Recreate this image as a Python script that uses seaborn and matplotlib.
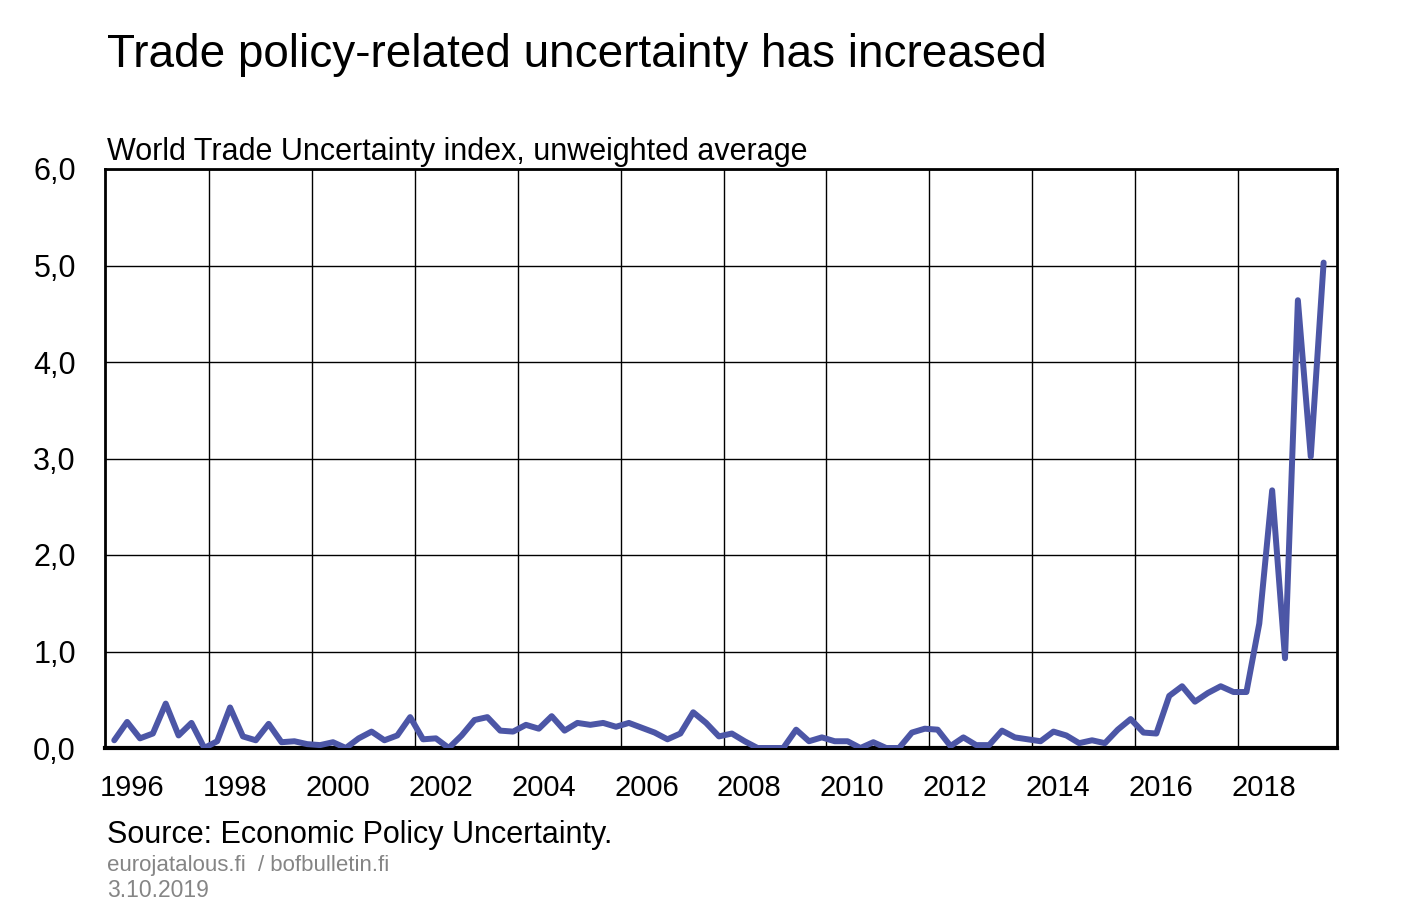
import pandas as pd
import seaborn as sns
import matplotlib.pyplot as plt
import numpy as np

# Quarterly World Trade Uncertainty index, 1996Q1 - 2019Q3
quarters = pd.period_range('1996Q1', '2019Q3', freq='Q')
wtu = [0.08, 0.27, 0.10, 0.15, 0.46, 0.13, 0.26, 0.00,
       0.07, 0.42, 0.12, 0.08, 0.25, 0.06, 0.07, 0.04,
       0.03, 0.06, 0.00, 0.10, 0.17, 0.08, 0.13, 0.32,
       0.09, 0.10, 0.00, 0.13, 0.29, 0.32, 0.18, 0.17,
       0.24, 0.20, 0.33, 0.18, 0.26, 0.24, 0.26, 0.22,
       0.26, 0.21, 0.16, 0.09, 0.15, 0.37, 0.26, 0.12,
       0.15, 0.07, 0.00, 0.00, 0.00, 0.19, 0.07, 0.11,
       0.07, 0.07, 0.00, 0.06, 0.00, 0.00, 0.16, 0.20,
       0.19, 0.02, 0.11, 0.03, 0.03, 0.18, 0.11, 0.09,
       0.07, 0.17, 0.13, 0.05, 0.08, 0.05, 0.19, 0.30,
       0.16, 0.15, 0.54, 0.64, 0.48, 0.57, 0.64, 0.58,
       0.58, 1.29, 2.67, 0.93, 4.64, 3.02, 5.03]

year_labels = ['1996', '1998', '2000', '2002', '2004', '2006',
               '2008', '2010', '2012', '2014', '2016', '2018']
y_ticks = [0, 1, 2, 3, 4, 5, 6]

title = 'Trade policy-related uncertainty has increased'
subtitle = 'World Trade Uncertainty index, unweighted average'
source = 'Source: Economic Policy Uncertainty.'
site = 'eurojatalous.fi  / bofbulletin.fi'
date = '3.10.2019'

df = pd.DataFrame({
    'x': [q.year + (q.quarter - 1) / 4 + 0.16 for q in quarters],
    'wtu': wtu,
})

sns.set_style('white')
plt.rcParams['font.family'] = ['Liberation Sans', 'DejaVu Sans']
plt.rcParams['text.color'] = 'black'
plt.rcParams['xtick.color'] = 'black'
plt.rcParams['ytick.color'] = 'black'

fig = plt.figure(figsize=(14.07, 9.19), dpi=100)
ax = fig.add_axes([105 / 1407, 1 - 748 / 919, (1337 - 105) / 1407, (748 - 169) / 919])

sns.lineplot(data=df, x='x', y='wtu', ax=ax, color='#4C56A6', linewidth=4.3,
             solid_joinstyle='round', solid_capstyle='round', zorder=3)

ax.set_xlim(1995.98, 2019.92)
ax.set_ylim(0, 6)
ax.set_xlabel('')
ax.set_ylabel('')

# y axis: gridlines with comma decimals
ax.set_yticks(y_ticks)
ax.set_yticklabels([f'{v:.1f}'.replace('.', ',') for v in y_ticks])
ax.yaxis.grid(True, color='black', linewidth=1)
ax.tick_params(axis='y', length=0, pad=21, labelsize=22)

# x axis: labels centred in even years, small inward ticks at year starts
ax.set_xticks([int(y) + 0.5 for y in year_labels])
ax.set_xticklabels(year_labels)
ax.tick_params(axis='x', which='major', length=0, pad=19, labelsize=21)
ax.set_xticks(range(1997, 2020), minor=True)
ax.tick_params(axis='x', which='minor', direction='in', length=7, width=1, color='black')
ax.vlines(range(1998, 2020, 2), 0, 6, color='black', linewidth=1, zorder=1)

for side in ['left', 'right', 'top']:
    ax.spines[side].set_color('black')
    ax.spines[side].set_linewidth(2)
ax.spines['bottom'].set_color('black')
ax.spines['bottom'].set_linewidth(3)

fig.text(107 / 1407, 1 - 67 / 919, title, fontsize=33, va='baseline')
fig.text(107 / 1407, 1 - 160 / 919, subtitle, fontsize=22, va='baseline')
fig.text(107 / 1407, 1 - 843 / 919, source, fontsize=22, va='baseline')
fig.text(107 / 1407, 1 - 871 / 919, site, fontsize=16, color='#858585', va='baseline')
fig.text(107 / 1407, 1 - 897 / 919, date, fontsize=16.5, color='#858585', va='baseline')

fig.savefig('out.png', dpi=100)
